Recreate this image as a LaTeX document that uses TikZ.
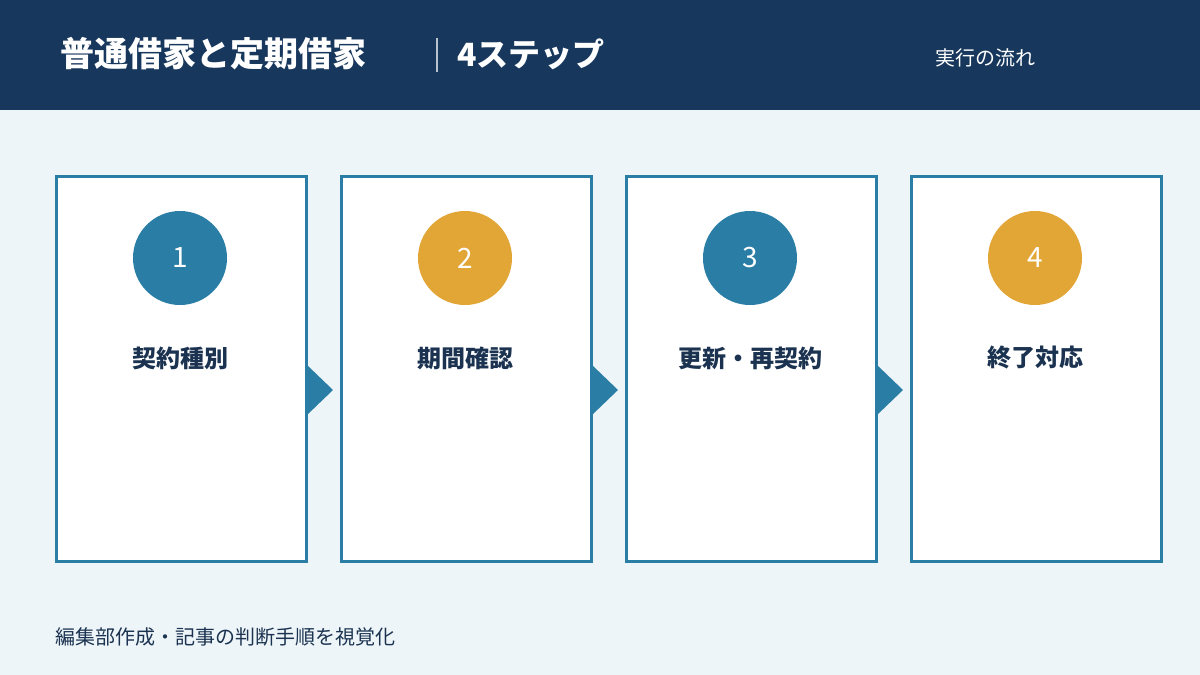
\documentclass[tikz,border=0pt]{standalone}
\usepackage{fontspec}
\setmainfont{Noto Sans CJK JP}
\newfontfamily\cjkb{Noto Sans CJK JP}[BoldFont={* Bold}]
\definecolor{navy}{HTML}{17375C}
\definecolor{bg}{HTML}{EEF5F9}
\definecolor{teal}{HTML}{2A7EA6}
\definecolor{gold}{HTML}{E2A637}
\definecolor{ink}{HTML}{1B3350}
\begin{document}
\begin{tikzpicture}[x=1pt,y=-1pt,
  card/.style={draw=teal,line width=2.5pt,fill=white,minimum width=250pt,minimum height=385pt,anchor=north west,inner sep=0},
  num/.style={circle,minimum size=94pt,inner sep=0,text=white,font=\fontsize{28}{30}\selectfont},
  lab/.style={text=ink,font=\fontsize{24}{28}\selectfont\bfseries},
  arr/.style={fill=teal,draw=none}]
\fill[bg] (0,0) rectangle (1200,675);
\useasboundingbox (0,0) rectangle (1200,675);
\fill[navy] (0,0) rectangle (1200,110);
\node[anchor=west,text=white,font=\fontsize{34}{38}\selectfont\bfseries,inner sep=0] (title) at (60,54) {普通借家と定期借家};
\draw[white!70!navy,line width=1.2pt] (437,38) -- (437,72);
\node[anchor=west,text=white,font=\fontsize{32}{38}\selectfont\bfseries,inner sep=0] (steps) at (457,54) {4ステップ};
\node[anchor=west,text=white,font=\fontsize{20}{24}\selectfont,inner sep=0] (flow) at (935,58) {実行の流れ};
\foreach \i/\x/\c/\t in {1/55/teal/契約種別,2/340/gold/期間確認,3/625/teal/更新・再契約,4/910/gold/終了対応}{
  \node[card] (c\i) at (\x,175) {};
  \node[num,fill=\c] (n\i) at (\x+125,258) {\i};
  \node[lab] (l\i) at (\x+125,358) {\t};
}
\foreach \x in {307,592,877}{
  \fill[arr] (\x,365) -- (\x+26,390) -- (\x,415) -- cycle;
}
\node[anchor=west,text=ink,font=\fontsize{20}{24}\selectfont,inner sep=0] (foot) at (55,637) {編集部作成・記事の判断手順を視覚化};
\end{tikzpicture}
\end{document}
